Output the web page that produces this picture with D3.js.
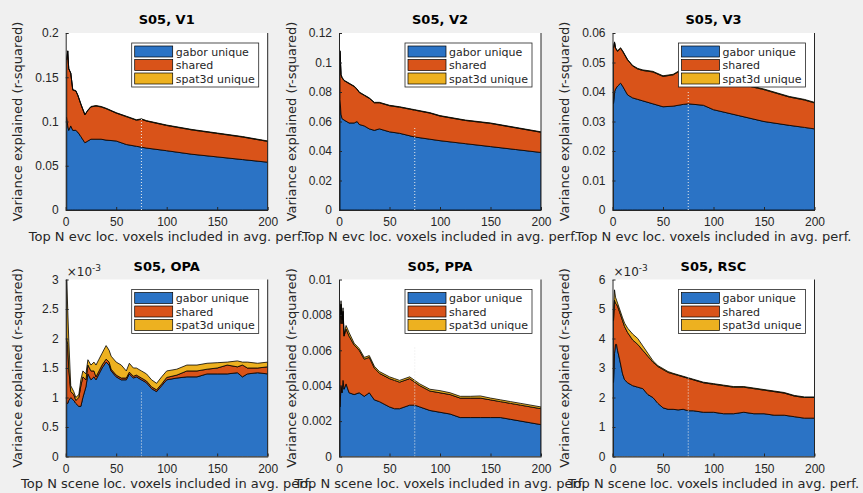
<!DOCTYPE html>
<html>
<head>
<meta charset="utf-8">
<script src="https://cdn.jsdelivr.net/npm/d3@7"></script>
<style>
  body { margin: 0; background: #f0f0f0; }
  svg { display: block; font-family: "DejaVu Sans", sans-serif; }
  .tick text { fill: #262626; font-size: 12px; }
  .tick line, .domain { stroke: #262626; }
</style>
</head>
<body>
<div id="chart"></div>
<script>
// ---- data ----
var seriesNames = ["gabor unique", "shared", "spat3d unique"];
var xTicks = [0, 50, 100, 150, 200];

// S05, V1
var n_V1 = [1,2,3,5,7,10,12,15,19,22,25,30,35,40,50,60,70,75,80,100,125,150,175,200];
var gabor_V1 = [0.105,0.095,0.09,0.095,0.09,0.09,0.088,0.083,0.076,0.078,0.08,0.08,0.08,0.079,0.078,0.074,0.072,0.071,0.070,0.067,0.063,0.060,0.057,0.054];
var shared_V1 = [0.0645,0.0845,0.0695,0.0595,0.0455,0.0445,0.0415,0.0365,0.0315,0.0345,0.0365,0.0375,0.0365,0.0355,0.0315,0.0315,0.0295,0.0315,0.0305,0.0285,0.0275,0.0265,0.0255,0.0235];
var spat_V1 = [0.0006,0.0005,0.0005,0.0004,0.0005,0.0005,0.0005,0.0005,0.0004,0.0005,0.0005,0.0005,0.0005,0.0005,0.0005,0.0005,0.0005,0.0005,0.0005,0.0005,0.0005,0.0005,0.0005,0.0005];
var yTicks_V1 = [0, 0.05, 0.1, 0.15, 0.2];

// S05, V2
var n_V2 = [1,2,3,5,10,15,18,20,25,30,35,40,50,60,75,90,100,125,150,175,200];
var gabor_V2 = [0.075,0.065,0.062,0.061,0.059,0.059,0.06,0.058,0.057,0.055,0.054,0.055,0.053,0.052,0.0495,0.048,0.047,0.045,0.043,0.041,0.039];
var shared_V2 = [0.0327,0.0267,0.0277,0.0267,0.0267,0.0247,0.0217,0.0217,0.0207,0.0207,0.0187,0.0177,0.0177,0.0177,0.0182,0.0177,0.0167,0.0157,0.0157,0.0147,0.0137];
var spat_V2 = [0.0003,0.0003,0.0003,0.0003,0.0003,0.0003,0.0003,0.0003,0.0003,0.0003,0.0003,0.0003,0.0003,0.0003,0.0003,0.0003,0.0003,0.0003,0.0003,0.0003,0.0003];
var yTicks_V2 = [0, 0.02, 0.04, 0.06, 0.08, 0.1, 0.12];

// S05, V3
var n_V3 = [1,2,3,5,8,10,15,20,25,30,40,50,60,70,75,90,100,125,150,175,190,200];
var gabor_V3 = [0.036,0.040,0.041,0.042,0.043,0.042,0.039,0.038,0.0375,0.037,0.036,0.035,0.0352,0.0358,0.036,0.0355,0.034,0.032,0.030,0.0287,0.028,0.0275];
var shared_V3 = [0.0188,0.0168,0.0138,0.0118,0.0118,0.0118,0.0118,0.0108,0.0103,0.0103,0.0108,0.0103,0.0106,0.012,0.0118,0.0113,0.0118,0.0108,0.0108,0.0096,0.0093,0.0088];
var spat_V3 = [0.0002,0.0002,0.0002,0.0002,0.0002,0.0002,0.0002,0.0002,0.0002,0.0002,0.0002,0.0002,0.0002,0.0002,0.0002,0.0002,0.0002,0.0002,0.0002,0.0002,0.0002,0.0002];
var yTicks_V3 = [0, 0.01, 0.02, 0.03, 0.04, 0.05, 0.06];

// S05, OPA (values in units of 1e-3)
var n_OPA = [1,2,3,5,8,10,13,15,17,20,22,25,28,30,33,36,40,43,45,50,55,60,63,67,70,75,80,85,90,95,100,110,120,130,140,150,160,170,175,180,190,200];
var gabor_OPA = [0.9,0.9,0.95,1.0,0.95,0.9,0.85,0.85,1.0,1.18,1.4,1.3,1.35,1.3,1.4,1.5,1.6,1.55,1.45,1.35,1.3,1.3,1.4,1.33,1.35,1.3,1.25,1.15,1.1,1.2,1.3,1.33,1.35,1.35,1.4,1.4,1.4,1.42,1.35,1.4,1.42,1.4];
var shared_OPA = [1.1,1.0,0.55,0.1,0.1,0.05,0.15,0.35,0.35,0.12,0.15,0.15,0.1,0.05,0.05,0.05,0.05,0.05,0.03,0.03,0.03,0.03,0.03,0.03,0.03,0.03,0.03,0.03,0.03,0.03,0.04,0.05,0.1,0.1,0.08,0.1,0.15,0.1,0.2,0.1,0.08,0.12];
var spat_OPA = [1.0,0.6,0.5,0.1,0.05,0.05,0.05,0.1,0.1,0.1,0.09,0.1,0.15,0.2,0.2,0.2,0.23,0.2,0.22,0.22,0.22,0.12,0.15,0.14,0.12,0.12,0.12,0.12,0.11,0.12,0.11,0.1,0.1,0.1,0.1,0.09,0.05,0.1,0.05,0.1,0.08,0.08];
var yTicks_OPA = [0, 0.5, 1, 1.5, 2, 2.5, 3];

// S05, PPA
var n_PPA = [1,2,3,4,5,7,10,15,20,25,30,35,40,50,55,60,70,75,80,90,100,110,120,130,140,150,160,170,180,190,200];
var gabor_PPA = [0.0028,0.004,0.0036,0.0043,0.0038,0.0041,0.0036,0.0035,0.0036,0.0034,0.0036,0.0032,0.0031,0.0028,0.0027,0.0027,0.0029,0.0029,0.0028,0.0026,0.0025,0.0024,0.0022,0.0022,0.0022,0.0022,0.0022,0.0021,0.002,0.0019,0.0018];
var shared_PPA = [0.0047,0.0046,0.0039,0.0039,0.003,0.0031,0.0032,0.0028,0.0024,0.0021,0.002,0.0018,0.0016,0.0016,0.0016,0.0015,0.0015,0.0013,0.0012,0.0011,0.0011,0.0011,0.0011,0.0011,0.0011,0.001,0.0009,0.0009,0.0009,0.0009,0.0009];
var spat_PPA = [0.0002,0.0002,0.0002,0.0002,0.0001,0.0002,0.0002,0.0001,0.0001,0.0001,0.0001,0.0001,0.0001,0.0001,0.0001,0.0001,0.0001,0.0001,0.0001,0.0001,0.00012,0.0001,0.0001,0.0001,0.00012,0.0001,0.0001,0.0001,0.0001,0.0001,0.0001];
var yTicks_PPA = [0, 0.002, 0.004, 0.006, 0.008, 0.01];

// S05, RSC (values in units of 1e-3)
var n_RSC = [1,2,3,4,5,7,10,12,15,20,25,30,35,40,45,50,55,60,65,70,75,80,90,100,110,120,130,140,150,160,170,180,190,200];
var gabor_RSC = [2.5,3.5,3.8,3.8,3.6,3.3,2.8,2.6,2.5,2.4,2.35,2.3,2.1,2.0,1.8,1.65,1.6,1.6,1.58,1.6,1.55,1.55,1.5,1.5,1.45,1.45,1.5,1.45,1.45,1.4,1.4,1.35,1.3,1.3];
var shared_RSC = [2.1,1.8,1.4,1.35,1.5,1.6,1.8,1.8,1.7,1.55,1.45,1.3,1.3,1.2,1.25,1.3,1.25,1.2,1.17,1.1,1.1,1.05,1.0,0.95,0.95,0.9,0.85,0.85,0.8,0.8,0.75,0.7,0.7,0.7];
var spat_RSC = [0.3,0.35,0.2,0.15,0.1,0.1,0.1,0.12,0.15,0.2,0.2,0.15,0.1,0.05,0.03,0.03,0.03,0.02,0.02,0.02,0.02,0.02,0.02,0.02,0.02,0.02,0.02,0.02,0.02,0.02,0.02,0.02,0.02,0.02];
var yTicks_RSC = [0, 1, 2, 3, 4, 5, 6];

// top of the dotted marker line at N = 75, per panel
var markerN = 75;
var markerTop = [0.104, 0.056, 0.04, 1.12, 0.0062, 2.8];

// ---- layout ----
var svgWidth = 863, svgHeight = 493;
var colors = ["#2b73c5", "#d95319", "#edb120"];
var colLeft = [65.7, 339, 612.5];
var rowTop = [33, 279.5];
var plotW = 202, plotH = 177;

var panels = [
  {title: "S05, V1", n: n_V1, s: [gabor_V1, shared_V1, spat_V1], ticks: yTicks_V1, exp: false, xlab: "Top N evc loc. voxels included in avg. perf."},
  {title: "S05, V2", n: n_V2, s: [gabor_V2, shared_V2, spat_V2], ticks: yTicks_V2, exp: false, xlab: "Top N evc loc. voxels included in avg. perf."},
  {title: "S05, V3", n: n_V3, s: [gabor_V3, shared_V3, spat_V3], ticks: yTicks_V3, exp: false, xlab: "Top N evc loc. voxels included in avg. perf."},
  {title: "S05, OPA", n: n_OPA, s: [gabor_OPA, shared_OPA, spat_OPA], ticks: yTicks_OPA, exp: true, xlab: "Top N scene loc. voxels included in avg. perf."},
  {title: "S05, PPA", n: n_PPA, s: [gabor_PPA, shared_PPA, spat_PPA], ticks: yTicks_PPA, exp: false, xlab: "Top N scene loc. voxels included in avg. perf."},
  {title: "S05, RSC", n: n_RSC, s: [gabor_RSC, shared_RSC, spat_RSC], ticks: yTicks_RSC, exp: true, xlab: "Top N scene loc. voxels included in avg. perf."}
];

var svg = d3.select("#chart")
  .append("svg")
  .attr("width", svgWidth)
  .attr("height", svgHeight);

svg.append("rect")
  .attr("width", svgWidth)
  .attr("height", svgHeight)
  .attr("fill", "#f0f0f0");

var fmt = d => String(+d.toPrecision(6));

// y labels first so neighbouring axes sit on top of them
var labelLayer = svg.append("g");

panels.forEach(function(p, i) {
  var left = colLeft[i % 3], top = rowTop[Math.floor(i / 3)];

  // y label
  labelLayer.append("text")
    .attr("transform", `translate(${left - 43.5}, ${top + plotH / 2}) rotate(-90)`)
    .attr("text-anchor", "middle")
    .attr("fill", "#262626")
    .style("font-size", "13px")
    .text("Variance explained (r-squared)");

  var g = svg.append("g").attr("transform", `translate(${left}, ${top})`);

  var x = d3.scaleLinear().domain([0, 200]).range([0, plotW]);
  var y = d3.scaleLinear().domain([0, p.ticks[p.ticks.length - 1]]).range([plotH, 0]);

  // white axes background
  g.append("rect").attr("width", plotW).attr("height", plotH).attr("fill", "white");

  // rows for the stack
  var rows = p.n.map((nv, k) => ({n: nv, 0: p.s[0][k], 1: p.s[1][k], 2: p.s[2][k]}));
  var stacked = d3.stack().keys([0, 1, 2])(rows);

  var area = d3.area()
    .x(d => x(d.data.n))
    .y0(d => y(d[0]))
    .y1(d => y(d[1]));

  var clipId = "clip" + i;
  g.append("clipPath").attr("id", clipId)
    .append("rect").attr("width", plotW).attr("height", plotH);

  var plot = g.append("g").attr("clip-path", `url(#${clipId})`);
  plot.selectAll("path.layer")
    .data(stacked)
    .enter()
    .append("path")
    .attr("class", "layer")
    .attr("d", area)
    .attr("fill", (d, k) => colors[k])
    .attr("stroke", "black")
    .attr("stroke-width", 0.8)
    .attr("stroke-linejoin", "round");

  // dotted marker
  plot.append("line")
    .attr("x1", x(markerN)).attr("x2", x(markerN))
    .attr("y1", y(0)).attr("y2", y(markerTop[i]))
    .attr("stroke", "#e8e8e8")
    .attr("stroke-width", 1)
    .attr("stroke-dasharray", "1,2");

  // axes
  var bottomAxis = d3.axisBottom(x).tickValues(xTicks).tickSizeInner(-3).tickSizeOuter(0).tickPadding(7.5);
  var leftAxis = d3.axisLeft(y).tickValues(p.ticks).tickFormat(fmt).tickSizeInner(-3).tickSizeOuter(0).tickPadding(7);

  g.append("g").attr("transform", `translate(0, ${plotH})`).call(bottomAxis)
    .selectAll("text").style("font-size", "12px");
  g.append("g").call(leftAxis)
    .selectAll("text").style("font-size", "12px");
  // right edge
  g.append("line").attr("x1", plotW).attr("x2", plotW).attr("y1", 0).attr("y2", plotH)
    .attr("stroke", "#262626").attr("stroke-width", 1);

  // title
  g.append("text")
    .attr("x", plotW / 2).attr("y", -9)
    .attr("text-anchor", "middle")
    .style("font-size", "13px").style("font-weight", "bold")
    .text(p.title);

  // x label
  g.append("text")
    .attr("x", plotW / 2).attr("y", plotH + 31)
    .attr("text-anchor", "middle")
    .attr("fill", "#262626")
    .style("font-size", "13px")
    .text(p.xlab);

  // exponent
  if (p.exp) {
    var ex = g.append("text").attr("x", 1).attr("y", -4)
      .attr("fill", "#262626").style("font-size", "12px");
    ex.append("tspan").text("\u00d710");
    ex.append("tspan").attr("dy", -5).style("font-size", "9px").text("-3");
  }

  // legend
  var lg = g.append("g").attr("transform", `translate(${plotW - 136}, 10)`);
  lg.append("rect").attr("width", 127).attr("height", 44)
    .attr("fill", "white").attr("stroke", "#262626").attr("stroke-width", 0.8);
  seriesNames.forEach(function(name, k) {
    lg.append("rect")
      .attr("x", 3).attr("y", 3 + k * 13.5)
      .attr("width", 38).attr("height", 11)
      .attr("fill", colors[k]).attr("stroke", "black").attr("stroke-width", 0.7);
    lg.append("text")
      .attr("x", 44).attr("y", 12.5 + k * 13.5)
      .attr("fill", "#262626")
      .style("font-size", "11px")
      .text(name);
  });
});
</script>
</body>
</html>
